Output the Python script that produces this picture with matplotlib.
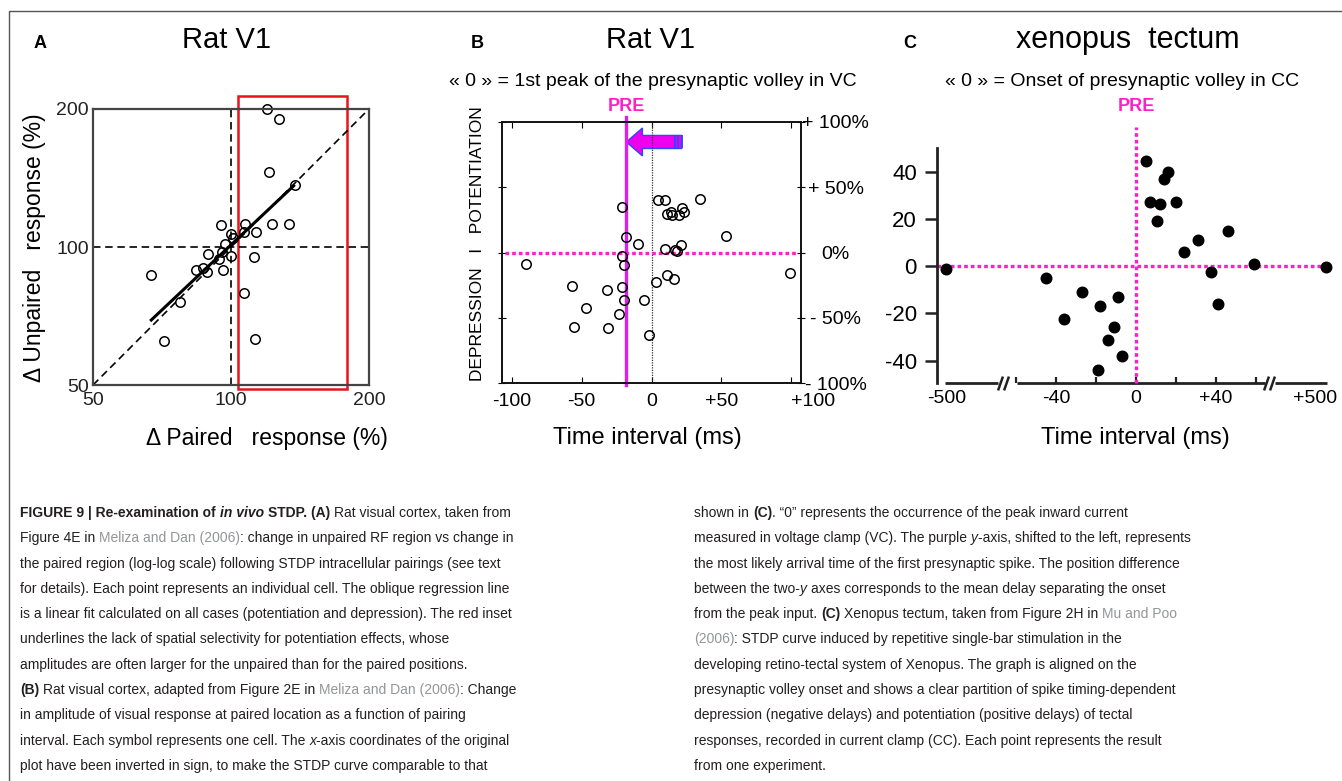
import numpy as np
import matplotlib
matplotlib.use("Agg")
import matplotlib.pyplot as plt
from matplotlib.patches import Rectangle, FancyArrow
from matplotlib.lines import Line2D
from matplotlib.transforms import ScaledTranslation

W, H = 1342, 781
plt.rcParams['font.family'] = ['Liberation Sans', 'DejaVu Sans']

# -----------------------
# PANEL A DATA (log-log, %)
# -----------------------
paired_a = [120, 127, 121, 138, 95, 107.5, 123, 134, 100, 107, 113.5, 101, 97,
            89, 95.5, 100, 112.5, 94, 87, 84, 88.5, 96, 67, 77.5, 107, 71.5, 113]
unpaired_a = [200, 190, 146, 136.5, 111.5, 112.5, 112.5, 112, 107, 108, 108, 104.5, 101.5,
              96.5, 97.5, 95.5, 95, 94, 90, 89, 88, 89, 87, 76, 79.5, 62.5, 63]
fit_x = [67, 137]
fit_y = [69.3, 136]
unity = [50, 200]
inset_x = [103.5, 179]
inset_y = [49, 214]
ticks_a = [50, 100, 200]

# -----------------------
# PANEL B DATA
# -----------------------
delay_b = [-90, -21, -18, -10, -21, -20, -57, -32, -21, -20, -5.5, -47, -23, -55.5, -31, -2,
           4.5, 10, 11, 14, 15, 20, 22, 23, 35, 53, 10, 17, 18, 21, 3.5, 11, 16, 99]
change_b = [-8.5, 35, 11.5, 6.5, -2.5, -9.5, -25.5, -29, -26.5, -36.5, -36.5, -42.5, -47.5, -57, -58, -63.5,
            40, 40, 29.5, 31, 28.5, 28.5, 34, 31, 41, 13, 3, 2, 1.5, 5.5, -22.5, -17.5, -20, -15.5]
pre_b = -18
arrow_tail, arrow_head, arrow_y = 21.7, -18, 84.7
stripes_b = [16.9, 19.3, 21.7]
ticks_bx = [-100, -50, 0, 50, 100]
labels_bx = ['-100', '-50', '0', '+50', '+100']
ticks_by = [100, 50, 0, -50, -100]
labels_by = ['+ 100%', '+ 50%', '0%', '- 50%', '- 100%']

# -----------------------
# PANEL C DATA
# -----------------------
delay_c = [-500, -45, -36, -27, -18, -9, -11, -14, -7, -19, 5, 7, 12, 10.5, 14, 16, 20, 24,
           31, 37.5, 41, 46, 59, 500]
change_c = [-1.3, -5, -22.5, -11, -17, -13, -26, -31.5, -38, -44, 44.5, 27, 26.5, 19, 37, 40, 27, 6,
            11, -2.7, -16, 15, 1, -0.5]
ticks_cx = [-500, -40, 0, 40, 500]
labels_cx = ['-500', '-40', '0', '+40', '+500']
minor_cx = [-60, -20, 20, 60]
ticks_cy = [40, 20, 0, -20, -40]
axis_segments_c = [(-506, -173), (-59.5, 116.6), (179, 506)]
breaks_c = [-160, -123, 123, 160]

PINK = '#ff1fc8'
VIOLET = '#e01cf0'
TXT = '#231f20'
LINK = '#939598'

fig = plt.figure(figsize=(W / 100, H / 100), dpi=100)


def px_axes(x0, y0, x1, y1):
    return fig.add_axes([x0 / W, 1 - y1 / H, (x1 - x0) / W, (y1 - y0) / H])


def fig_text(x, y, s, **kw):
    return fig.text(x / W, 1 - y / H, s, **kw)


# frame
fig.add_artist(Line2D([9 / W, 9 / W, 1], [0, 1 - 11 / H, 1 - 11 / H],
                      transform=fig.transFigure, color='#555555', lw=1))

# -----------------------
# PANEL A
# -----------------------
ax = px_axes(93, 109, 369, 385)
ax.set_xscale('log')
ax.set_yscale('log')
ax.set_xlim(50, 200)
ax.set_ylim(50, 200)
ax.xaxis.set_minor_locator(matplotlib.ticker.NullLocator())
ax.yaxis.set_minor_locator(matplotlib.ticker.NullLocator())
ax.set_xticks(ticks_a, [str(t) for t in ticks_a])
ax.set_yticks(ticks_a, [str(t) for t in ticks_a])
ax.tick_params(length=0, labelsize=14, colors='#222222')
ax.tick_params(axis='x', pad=5)
ax.tick_params(axis='y', pad=3)
for s in ax.spines.values():
    s.set_color('#444444')
    s.set_linewidth(1.6)
dash = (0, (4.5, 2.8))
ax.axvline(100, color='k', lw=1.2, ls=dash)
ax.axhline(100, color='k', lw=1.2, ls=dash)
ax.plot(unity, unity, color='k', lw=1.2, ls=dash)
ax.plot(fit_x, fit_y, color='k', lw=2.2)
ax.plot(paired_a, unpaired_a, 'o', mfc='none', mec='k', ms=6.8, mew=1.1, clip_on=False)
ax.add_patch(Rectangle((inset_x[0], inset_y[0]), inset_x[1] - inset_x[0], inset_y[1] - inset_y[0],
                       fill=False, ec='#e8141c', lw=1.8, clip_on=False))
ax.text((35 - 93) / 276, (385 - 248) / 276, u'\u0394 Unpaired   response (%)', rotation=90,
        ha='center', va='center', fontsize=16.5, transform=ax.transAxes)
ax.text((267 - 93) / 276, (385 - 438) / 276, u'\u0394 Paired   response (%)',
        ha='center', va='center', fontsize=16.5, transform=ax.transAxes)

fig_text(40, 44, 'A', fontsize=13, weight='bold', ha='center', va='center')
fig_text(226, 40, 'Rat V1', fontsize=21, ha='center', va='center')

# -----------------------
# PANEL B
# -----------------------
bx = px_axes(502, 122, 801, 383)
bx.set_xlim(-107, 107)
bx.set_ylim(-100, 100)
for s in bx.spines.values():
    s.set_color('#111111')
    s.set_linewidth(1.4)
bx.set_xticks(ticks_bx, labels_bx)
bx.set_yticks(ticks_by, labels_by)
bx.yaxis.tick_right()
bx.tick_params(axis='x', top=True, direction='in', length=4, labelsize=14, pad=7)
bx.tick_params(axis='y', left=True, right=True, direction='inout', length=6, labelsize=14, pad=22)
for lab in bx.get_yticklabels():
    lab.set_ha('center')
bx.get_xticklabels()[-1].set_ha('left')
bx.axvline(0, color='#333333', lw=0.9, ls=(0, (1, 1)))
bx.axhline(0, xmin=0.01, xmax=0.99, color=PINK, lw=2.4, ls=(0, (1.1, 0.9)))
bx.plot([pre_b, pre_b], [-101.5, 103.8], color=VIOLET, lw=2.4, clip_on=False)
bx.plot(delay_b, change_b, 'o', mfc='none', mec='k', ms=6.8, mew=1.1, clip_on=False)
bx.add_patch(FancyArrow(arrow_tail, arrow_y, arrow_head - arrow_tail, 0, width=10, head_width=21.4,
                        head_length=11.5, length_includes_head=True, fc='#ee00ee', ec='#3344ff', lw=1.0))
bx.vlines(stripes_b, arrow_y - 5, arrow_y + 5, color='#3344ff', lw=1.3)
bx.text(pre_b, 111.5, 'PRE', color=PINK, fontsize=13, weight='bold', ha='center', va='center')
bx.text((478 - 502) / 299, (383 - 243.5) / 261, 'DEPRESSION   I   POTENTIATION', rotation=90,
        ha='center', va='center', fontsize=12.5, transform=bx.transAxes)
bx.text((647 - 502) / 299, (383 - 438) / 261, 'Time interval (ms)',
        ha='center', va='center', fontsize=17, transform=bx.transAxes)

fig_text(477, 44, 'B', fontsize=13, weight='bold', ha='center', va='center')
fig_text(651, 40, 'Rat V1', fontsize=21, ha='center', va='center')
fig_text(653, 81, u'\u00ab 0 \u00bb = 1st peak of the presynaptic volley in VC', fontsize=14,
         ha='center', va='center')

# -----------------------
# PANEL C (broken x axis)
# -----------------------
def fwd(x):
    x = np.asarray(x, float)
    a = np.abs(x)
    return np.where(a <= 60, x, np.sign(x) * (60 + (a - 60) * 35 / 440))


def inv(t):
    t = np.asarray(t, float)
    a = np.abs(t)
    return np.where(a <= 60, t, np.sign(t) * (60 + (a - 60) * 440 / 35))


cx = px_axes(937, 148, 1330, 383)
cx.set_xscale('function', functions=(fwd, inv))
cx.set_xlim(-558, 525)
cx.set_ylim(-49.5, 50)
for k in ['top', 'right', 'bottom']:
    cx.spines[k].set_visible(False)
cx.spines['left'].set_linewidth(2)
cx.spines['left'].set_color('#222222')
cx.set_xticks(ticks_cx, labels_cx)
cx.set_xticks(minor_cx, minor=True)
cx.set_yticks(ticks_cy, [str(t) for t in ticks_cy])
cx.tick_params(axis='x', which='both', direction='in', length=4, width=1.6, color='#222222',
               labelsize=14, pad=5)
cx.tick_params(axis='y', direction='out', length=8.5, width=1.8, color='#222222', labelsize=16, pad=6)
for i in (0, -1):
    cx.xaxis.get_major_ticks()[i].tick1line.set_visible(False)
last = cx.get_xticklabels()[-1]
last.set_transform(last.get_transform() + ScaledTranslation(-8 / 72, 0, fig.dpi_scale_trans))
xt = cx.get_xaxis_transform()
for x0, x1 in axis_segments_c:
    cx.plot([x0, x1], [0, 0], color='#222222', lw=2, transform=xt, clip_on=False,
            solid_capstyle='butt')
cx.plot(breaks_c, [0] * len(breaks_c), ls='none', marker=[(-0.35, -1), (0.35, 1)], ms=10,
        mew=1.8, color='#222222', transform=xt, clip_on=False)
cx.axhline(0, color=PINK, lw=2.4, ls=(0, (1.1, 0.9)))
cx.plot([0, 0], [-49.5, 59], color=PINK, lw=2.4, ls=(0, (1.1, 0.9)), clip_on=False)
cx.plot(delay_c, change_c, 'o', color='k', ms=7.6, clip_on=False)
cx.text(0, 67.4, 'PRE', color=PINK, fontsize=13, weight='bold', ha='center', va='center')
cx.text((1135 - 937) / 393, (383 - 438) / 235, 'Time interval (ms)',
        ha='center', va='center', fontsize=17, transform=cx.transAxes)

fig_text(910, 44, 'C', fontsize=13, weight='bold', ha='center', va='center')
fig_text(1128, 40, 'xenopus  tectum', fontsize=22, ha='center', va='center')
fig_text(1122, 81, u'\u00ab 0 \u00bb = Onset of presynaptic volley in CC', fontsize=14,
         ha='center', va='center')

# -----------------------
# CAPTION
# -----------------------
CAP_FONT = ['Liberation Sans', 'DejaVu Sans']
CAP_SIZE = 10
STY = {
    'n': dict(color=TXT),
    'b': dict(color=TXT, weight='bold'),
    'bi': dict(color=TXT, weight='bold', style='italic'),
    'i': dict(color=TXT, style='italic'),
    'g': dict(color=LINK),
}

caption_left = [
    [("FIGURE 9 | Re-examination of ", 'b'), ("in vivo", 'bi'), (" STDP. (A)", 'b'),
     (" Rat visual cortex, taken from", 'n')],
    [("Figure 4E in ", 'n'), ("Meliza and Dan (2006)", 'g'), (": change in unpaired RF region vs change in", 'n')],
    [("the paired region (log-log scale) following STDP intracellular pairings (see text", 'n')],
    [("for details). Each point represents an individual cell. The oblique regression line", 'n')],
    [("is a linear fit calculated on all cases (potentiation and depression). The red inset", 'n')],
    [("underlines the lack of spatial selectivity for potentiation effects, whose", 'n')],
    [("amplitudes are often larger for the unpaired than for the paired positions.", 'n')],
    [("(B)", 'b'), (" Rat visual cortex, adapted from Figure 2E in ", 'n'), ("Meliza and Dan (2006)", 'g'),
     (": Change", 'n')],
    [("in amplitude of visual response at paired location as a function of pairing", 'n')],
    [("interval. Each symbol represents one cell. The ", 'n'), ("x", 'i'),
     ("-axis coordinates of the original", 'n')],
    [("plot have been inverted in sign, to make the STDP curve comparable to that", 'n')],
]
caption_right = [
    [("shown in ", 'n'), ("(C)", 'b'), (u". \u201c0\u201d represents the occurrence of the peak inward current", 'n')],
    [("measured in voltage clamp (VC). The purple ", 'n'), ("y", 'i'),
     ("-axis, shifted to the left, represents", 'n')],
    [("the most likely arrival time of the first presynaptic spike. The position difference", 'n')],
    [("between the two-", 'n'), ("y", 'i'), (" axes corresponds to the mean delay separating the onset", 'n')],
    [("from the peak input. ", 'n'), ("(C)", 'b'), (" Xenopus tectum, taken from Figure 2H in ", 'n'),
     ("Mu and Poo", 'g')],
    [("(2006)", 'g'), (": STDP curve induced by repetitive single-bar stimulation in the", 'n')],
    [("developing retino-tectal system of Xenopus. The graph is aligned on the", 'n')],
    [("presynaptic volley onset and shows a clear partition of spike timing-dependent", 'n')],
    [("depression (negative delays) and potentiation (positive delays) of tectal", 'n')],
    [("responses, recorded in current clamp (CC). Each point represents the result", 'n')],
    [("from one experiment.", 'n')],
]

renderer = fig.canvas.get_renderer()


def width_px(s, props):
    t = fig.text(0, 0, '|' + s + '|', **props)
    w1 = t.get_window_extent(renderer).width
    t.set_text('||')
    w2 = t.get_window_extent(renderer).width
    t.remove()
    return w1 - w2


def rich_line(x, y, runs):
    for s, key in runs:
        props = dict(family=CAP_FONT, size=CAP_SIZE, **STY[key])
        lead = len(s) - len(s.lstrip(' '))
        off = width_px(' ' * lead, props) if lead else 0
        fig_text(x + off, y, s.strip(' '), ha='left', va='baseline', **props)
        x += width_px(s, props)


for i, runs in enumerate(caption_left):
    rich_line(20, 517 + i * 25.3, runs)
for i, runs in enumerate(caption_right):
    rich_line(694, 517 + i * 25.3, runs)

fig.savefig('out.png', dpi=100)
